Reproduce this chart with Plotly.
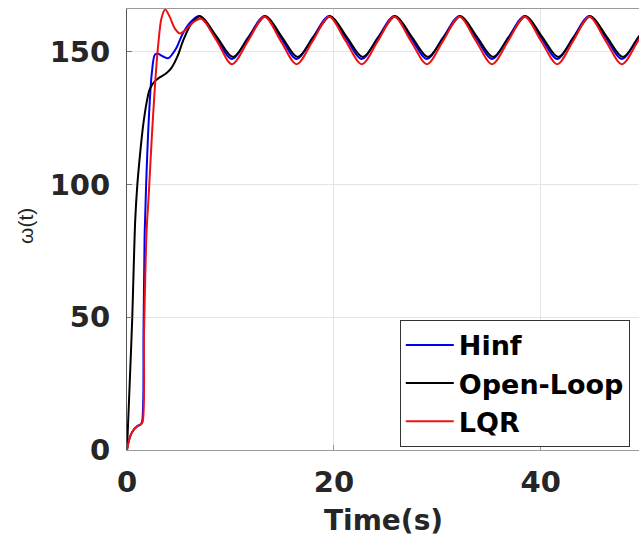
import plotly.graph_objects as go

# Angular speed response omega(t) for three controllers

# H-infinity controller
t_hinf = [0, 0.2, 0.5, 1.0, 1.3, 1.45, 1.6, 1.7, 1.85, 2.1, 2.4, 2.7, 3.0, 3.5, 4.0,
          4.7, 5.4, 6.2, 7.0, 8.57, 10.15, 11.72, 13.3, 14.85, 16.4, 17.97, 19.55,
          21.12, 22.7, 24.27, 25.85, 27.42, 29.0, 30.57, 32.15, 33.72, 35.3, 36.87,
          38.45, 40.02, 41.6, 43.15, 44.7, 46.27, 47.85, 49.42, 51.0]
w_hinf = [0, 3.8, 6.8, 9.0, 9.6, 10.5, 45, 80, 100, 124, 142, 149, 149.3, 148.3, 147.7,
          151, 157, 161.5, 163.6, 155.5, 147.4, 155.5, 163.6, 155.5, 147.4, 155.5, 163.6,
          155.5, 147.4, 155.5, 163.6, 155.5, 147.4, 155.5, 163.6, 155.5, 147.4, 155.5,
          163.6, 155.5, 147.4, 155.5, 163.6, 155.5, 147.4, 155.5, 163.6]

# Open-loop response
t_open = [0, 0.25, 0.5, 0.8, 1.0, 1.3, 1.55, 1.9, 2.2, 2.7, 3.2, 3.8, 4.3, 4.9, 5.4,
          6.2, 7.1, 8.67, 10.25, 11.82, 13.4, 14.95, 16.5, 18.07, 19.65, 21.22, 22.8,
          24.37, 25.95, 27.52, 29.1, 30.67, 32.25, 33.82, 35.4, 36.97, 38.55, 40.12,
          41.7, 43.25, 44.8, 46.37, 47.95, 49.52, 51.1]
w_open = [0, 24, 49, 87, 100, 113, 122, 131, 136, 139, 140.5, 142, 144, 148.5, 154,
          160.5, 163.5, 155.8, 148.1, 155.8, 163.5, 155.8, 148.1, 155.8, 163.5, 155.8, 148.1,
          155.8, 163.5, 155.8, 148.1, 155.8, 163.5, 155.8, 148.1, 155.8, 163.5, 155.8,
          148.1, 155.8, 163.5, 155.8, 148.1, 155.8, 163.5]

# LQR controller
t_lqr = [0, 0.2, 0.5, 1.0, 1.3, 1.5, 1.65, 1.9, 2.1, 2.4, 2.7, 3.0, 3.35, 3.7, 4.1,
         4.6, 5.1, 5.7, 6.4, 7.2, 8.67, 10.15, 11.72, 13.3, 14.85, 16.4, 17.97, 19.55,
         21.12, 22.7, 24.27, 25.85, 27.42, 29.0, 30.57, 32.15, 33.72, 35.3, 36.87,
         38.45, 40.02, 41.6, 43.15, 44.7, 46.27, 47.85, 49.42, 51.0]
w_lqr = [0, 3.8, 6.8, 9.0, 9.5, 10.5, 45, 83, 96, 118, 137, 152, 163, 166, 163.5,
         159, 157, 158.5, 161.2, 162.5, 154.3, 145.4, 154.3, 163.3, 154.3, 145.4, 154.3, 163.3,
         154.3, 145.4, 154.3, 163.3, 154.3, 145.4, 154.3, 163.3, 154.3, 145.4, 154.3,
         163.3, 154.3, 145.4, 154.3, 163.3, 154.3, 145.4, 154.3, 163.3]

x_ticks = [0, 20, 40]
y_ticks = [0, 50, 100, 150]

W, H = 639, 537
L, R, T, B = 127, 0, 9, 87

fig = go.Figure()
series = [("Hinf", t_hinf, w_hinf, "#0000ee"),
          ("Open-Loop", t_open, w_open, "#000000"),
          ("LQR", t_lqr, w_lqr, "#ee1111")]
for name, t, w, c in series:
    fig.add_trace(go.Scatter(x=t, y=w, name=name, mode="lines",
                             line=dict(color=c, width=2, shape="spline", smoothing=0.9)))

tick_font = dict(family="DejaVu Sans", size=29, color="#262626", weight="bold")

fig.update_layout(
    width=W, height=H,
    margin=dict(l=L, r=R, t=T, b=B),
    paper_bgcolor="white", plot_bgcolor="white",
    showlegend=True,
    legend=dict(x=0.982, y=0.007, xanchor="right", yanchor="bottom",
                bgcolor="white", bordercolor="#333333", borderwidth=1,
                font=dict(family="DejaVu Sans", size=27, color="#000000", weight="bold"),
                tracegroupgap=0, itemwidth=48),
    xaxis=dict(range=[0, 49.5], tickvals=x_ticks, ticktext=[str(v) for v in x_ticks],
               showgrid=True, gridcolor="#e4e4e4", gridwidth=1, zeroline=False,
               showline=True, linecolor="#9a9a9a", linewidth=1, mirror=True,
               ticks="inside", ticklen=5, tickcolor="#9a9a9a",
               tickfont=tick_font, ticklabelstandoff=6),
    yaxis=dict(range=[0, 166.2], tickvals=y_ticks, ticktext=[str(v) for v in y_ticks],
               showgrid=True, gridcolor="#e4e4e4", gridwidth=1, zeroline=False,
               showline=True, linecolor="#555555", linewidth=1,
               ticks="inside", ticklen=5, tickcolor="#777777",
               tickfont=tick_font, ticklabelstandoff=10),
    annotations=[
        dict(text="Time(s)", xref="paper", yref="paper", x=0.5, y=(450 - 520) / 441,
             xanchor="center", yanchor="middle", showarrow=False,
             font=dict(family="DejaVu Sans", size=28, color="#262626", weight="bold")),
        dict(text="\u03c9(t)", xref="paper", yref="paper", x=(25 - L) / 512, y=(450 - 226) / 441,
             xanchor="center", yanchor="middle", textangle=-90, showarrow=False,
             font=dict(family="Liberation Sans", size=21, color="#262626")),
    ],
)

fig.write_html("out.html")
